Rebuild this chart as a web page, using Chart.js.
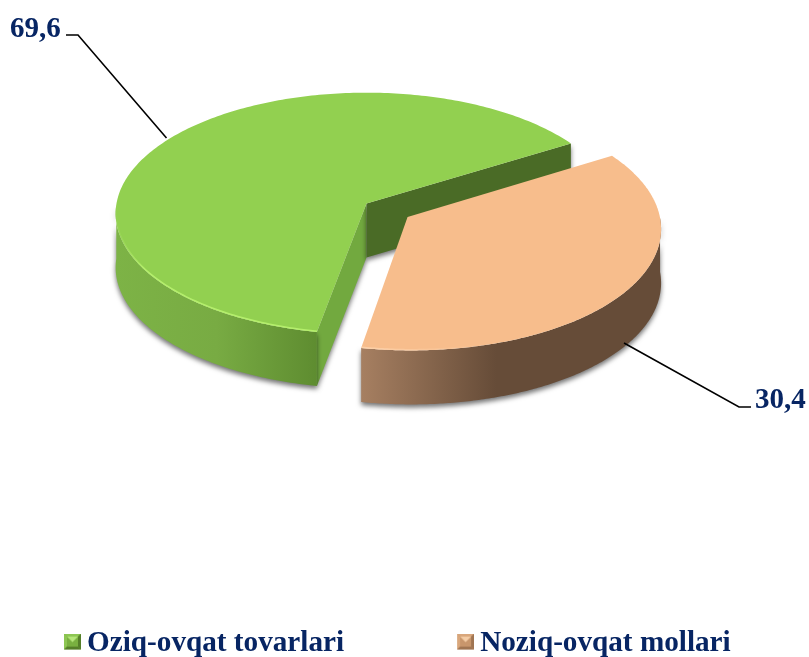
<!DOCTYPE html>
<html>
<head>
<meta charset="utf-8">
<style>html,body{margin:0;padding:0;background:#fff}#wrap{width:809px;height:657px}</style>
<script src="https://cdn.jsdelivr.net/npm/chart.js@4"></script>
</head>
<body>
<div id="wrap"><canvas id="c" width="809" height="657"></canvas></div>
<script>
const categories = ['Oziq-ovqat tovarlari', 'Noziq-ovqat mollari'];
const shares = [69.6, 30.4];
const sliceOffsets = [0, 39.5];
const topColors = ['#92D050', '#F7BD8C'];

const FONT = '"Liberation Serif", "Times New Roman", serif';
const NAVY = '#072563';
const CX = 366.5, CY = 203.5, RX = 250, RY = 120, K = 0.0826, DEPTH = 54;
const STRETCH = 0.2411, STRETCH_AT = 124.5 * Math.PI / 180;
const LEGEND_PAD = 118.5;

const wallStyles = [
  {stops: [[0, '#7DB346'], [0.5, '#78AB43'], [1, '#5E8C30']], x0: 115, x1: 318, near: '#72A93F', inner: '#4A6B26',
   rim: [[0, 'rgba(184,242,110,0)'], [0.15, 'rgba(184,242,110,0.9)'], [1, 'rgba(184,242,110,0.9)']]},
  {stops: [[0, '#A67F61'], [0.45, '#664C38'], [1, '#664C38']], x0: 362, x1: 660, near: '#A67F61', inner: '#664C38',
   rim: [[0, 'rgba(255,214,176,0.8)'], [0.4, 'rgba(255,214,176,0)'], [1, 'rgba(255,214,176,0)']]}
];

function warp(t) { return t + STRETCH * Math.sin(t - STRETCH_AT); }
function project(u, v, dz) {
  const w = 1 - K * v;
  return [CX + RX * u / w, CY + RY * v / w + dz];
}
function pathOf(pts, ctx, move) {
  pts.forEach((p, i) => (i === 0 && move) ? ctx.moveTo(p[0], p[1]) : ctx.lineTo(p[0], p[1]));
}

// Each slice the library lays out is drawn in the tilted 3D view of the reference.
Chart.ArcElement.prototype.draw = function (ctx) {
  const {startAngle, endAngle} = this.getProps(['startAngle', 'endAngle']);
  const idx = this.$context ? this.$context.dataIndex : 0;
  const s = startAngle + Math.PI / 2, e = endAngle + Math.PI / 2;
  const mid = (s + e) / 2;
  const t = (this.options.offset || 0) / 200;
  const ox = t * Math.sin(mid), oy = -t * Math.cos(mid);
  const a0 = warp(s), a1 = warp(e);
  const ring = [];
  const n = 240;
  for (let i = 0; i <= n; i++) {
    const a = a0 + (a1 - a0) * i / n;
    ring.push({a, u: ox + Math.sin(a), v: oy - Math.cos(a)});
  }
  const st = wallStyles[idx];
  const apex = project(ox, oy, 0), apexB = project(ox, oy, DEPTH);
  const first = project(ring[0].u, ring[0].v, 0), firstB = project(ring[0].u, ring[0].v, DEPTH);
  const last = project(ring[n].u, ring[n].v, 0), lastB = project(ring[n].u, ring[n].v, DEPTH);
  const nearRing = ring.filter(r => Math.cos(r.a) < 0);

  function shadowOn() {
    ctx.shadowColor = 'rgba(0,0,0,0.55)';
    ctx.shadowBlur = 5;
    ctx.shadowOffsetY = 3;
  }
  function fillQuad(a, b, c, d, color) {
    ctx.save();
    shadowOn();
    ctx.beginPath();
    pathOf([a, b, c, d], ctx, true);
    ctx.closePath();
    ctx.fillStyle = color;
    ctx.fill();
    ctx.restore();
  }

  // cut faces
  if (idx === 0) {
    fillQuad(apex, first, firstB, apexB, st.near);   // face toward the gap
    fillQuad(apex, last, lastB, apexB, st.inner);    // back face
  }
  // outer wall
  const topPts = nearRing.map(r => project(r.u, r.v, 0));
  const botPts = nearRing.map(r => project(r.u, r.v, DEPTH));
  const g = ctx.createLinearGradient(st.x0, 0, st.x1, 0);
  st.stops.forEach(q => g.addColorStop(q[0], q[1]));
  ctx.save();
  shadowOn();
  ctx.beginPath();
  pathOf(topPts, ctx, true);
  pathOf(botPts.slice().reverse(), ctx, false);
  ctx.closePath();
  ctx.fillStyle = g;
  ctx.fill();
  ctx.restore();

  // top face
  ctx.save();
  ctx.beginPath();
  ctx.moveTo(apex[0], apex[1]);
  pathOf(ring.map(r => project(r.u, r.v, 0)), ctx, false);
  ctx.closePath();
  ctx.fillStyle = this.options.backgroundColor;
  ctx.fill();
  ctx.clip();
  const rg = ctx.createLinearGradient(st.x0, 0, st.x1, 0);
  st.rim.forEach(q => rg.addColorStop(q[0], q[1]));
  ctx.beginPath();
  pathOf(topPts, ctx, true);
  ctx.strokeStyle = rg;
  ctx.lineWidth = 3;
  ctx.stroke();
  ctx.restore();
};

function bevelIcon(light, mid, dark, hi) {
  const c = document.createElement('canvas');
  c.width = 20; c.height = 20;
  const x = c.getContext('2d');
  x.translate(3, 0);
  const tri = (col, pts) => { x.fillStyle = col; x.beginPath(); pts.forEach((p, i) => i ? x.lineTo(p[0], p[1]) : x.moveTo(p[0], p[1])); x.closePath(); x.fill(); };
  x.fillStyle = mid; x.fillRect(0, 0, 17, 16);
  const ctr = [[3, 3], [14, 3], [14, 13], [3, 13]];
  tri(light, [[0, 0], [17, 0], ctr[1], ctr[0]]);
  tri(light, [[0, 0], [0, 16], ctr[3], ctr[0]]);
  tri(dark, [[17, 0], [17, 16], ctr[2], ctr[1]]);
  tri(dark, [[0, 16], [17, 16], ctr[2], ctr[3]]);
  tri(mid, ctr);
  tri(hi, [ctr[0], ctr[1], [8.5, 8.5]]);
  return c;
}
const legendIcons = [
  bevelIcon('#8DC653', '#79B040', '#557F29', '#B5E67A'),
  bevelIcon('#D9A77C', '#C8966C', '#A07552', '#F5CDA6')
];

const calloutLines = [
  [[66, 35], [78, 35], [166.5, 138]],
  [[624, 343], [739, 407], [751, 407]]
];
const calloutText = [[10, 36.5], [755, 407.5]];

const calloutPlugin = {
  id: 'callouts',
  afterLayout(chart) {
    const l = chart.legend;
    l.top = 629 - LEGEND_PAD;
    l.left = 69.5 - LEGEND_PAD;
    l.right = 2000;
  },
  afterDatasetsDraw(chart) {
    const ctx = chart.ctx;
    ctx.save();
    ctx.strokeStyle = '#000';
    ctx.lineWidth = 1.6;
    calloutLines.forEach(line => {
      ctx.beginPath();
      line.forEach((p, i) => i ? ctx.lineTo(p[0], p[1]) : ctx.moveTo(p[0], p[1]));
      ctx.stroke();
    });
    ctx.fillStyle = NAVY;
    ctx.font = 'bold 29px ' + FONT;
    ctx.textBaseline = 'alphabetic';
    ctx.textAlign = 'left';
    shares.forEach((v, i) => ctx.fillText(v.toFixed(1).replace('.', ','), calloutText[i][0], calloutText[i][1]));
    ctx.restore();
  }
};

new Chart(document.getElementById('c'), {
  type: 'pie',
  data: {
    labels: categories,
    datasets: [{
      data: shares,
      backgroundColor: topColors,
      offset: sliceOffsets,
      borderWidth: 0
    }]
  },
  options: {
    responsive: false,
    animation: false,
    events: [],
    rotation: 179.22,
    plugins: {
      tooltip: {enabled: false},
      title: {display: false},
      legend: {
        display: true,
        position: 'bottom',
        align: 'start',
        labels: {
          usePointStyle: true,
          boxWidth: 3,
          padding: LEGEND_PAD,
          color: NAVY,
          font: {family: FONT, weight: 'bold', size: 29.2},
          generateLabels(chart) {
            return Chart.overrides.doughnut.plugins.legend.labels.generateLabels(chart)
              .map((it, i) => Object.assign(it, {pointStyle: legendIcons[i], fontColor: NAVY}));
          }
        }
      }
    }
  },
  plugins: [calloutPlugin]
});
</script>
</body>
</html>
